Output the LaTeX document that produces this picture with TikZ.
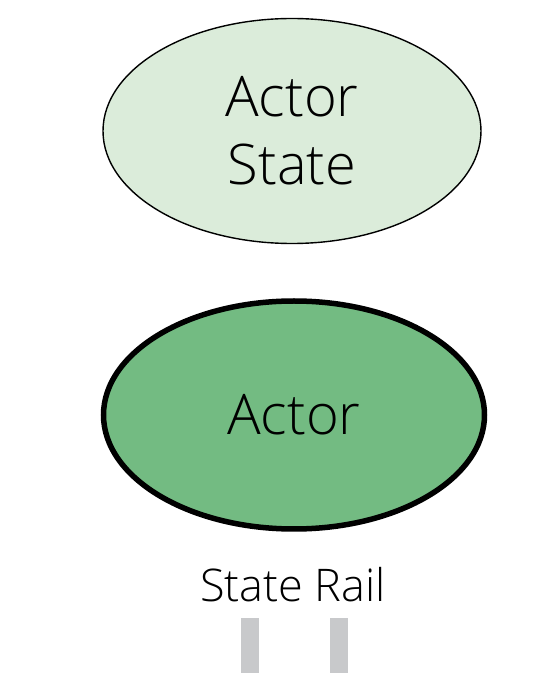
\documentclass[tikz,border=0pt]{standalone}
\usepackage{fontspec}
\setmainfont{Open Sans}[UprightFont=* Light]
\usetikzlibrary{shapes.geometric}
\definecolor{statefill}{RGB}{219,236,218}
\definecolor{actorfill}{RGB}{115,187,130}
\definecolor{railgray}{RGB}{200,201,203}
\tikzset{
  bubble/.style={ellipse, draw=black, inner sep=0pt, align=center,
    font=\fontsize{56}{68}\selectfont},
  railbar/.style={rectangle, fill=railgray, draw=none, inner sep=0pt,
    minimum width=18pt, minimum height=56pt, anchor=south}
}
\begin{document}
\begin{tikzpicture}[x=1pt,y=1pt]
  \useasboundingbox (0,0) rectangle (555,673);
  % state held by the actor
  \node[bubble, fill=statefill, line width=1.4pt,
        minimum width=378pt, minimum height=225pt] (state) at (292,542) {Actor\\State};
  % the actor itself
  \node[bubble, fill=actorfill, line width=5.5pt,
        minimum width=381pt, minimum height=228pt] (actor) at (294,258) {Actor};
  % rail label and its two bars
  \node[anchor=base, inner sep=0pt, font=\fontsize{45}{55}\selectfont] (rail) at (293,71) {State Rail};
  \node[railbar] (railL) at (250,-1) {};
  \node[railbar] (railR) at (339,-1) {};
\end{tikzpicture}
\end{document}
